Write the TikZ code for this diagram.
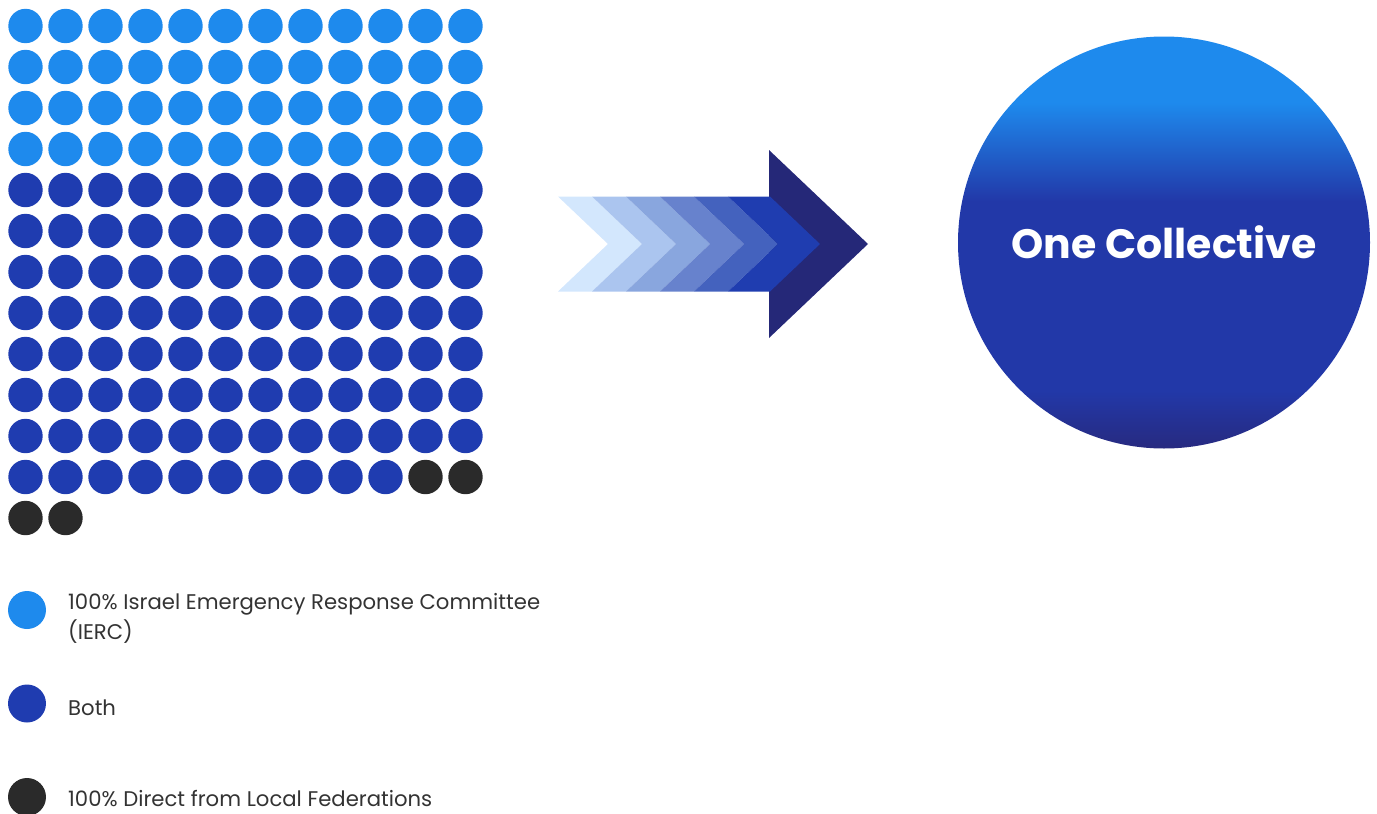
\documentclass[tikz,border=0pt]{standalone}
\usepackage{fontspec}
\setmainfont{Poppins}
\usepackage{tikz}

\definecolor{ierc}{HTML}{1E8AED}
\definecolor{both}{HTML}{1F3CB0}
\definecolor{direct}{HTML}{2A2A2A}
\definecolor{navy}{HTML}{252878}
\definecolor{collmid}{HTML}{2238A8}
\definecolor{collbot}{HTML}{272A80}
\definecolor{keygray}{HTML}{333333}
\definecolor{band1}{HTML}{D3E7FD}
\definecolor{band2}{HTML}{ABC5EF}
\definecolor{band3}{HTML}{89A6DE}
\definecolor{band4}{HTML}{6782CD}
\definecolor{band5}{HTML}{4462BE}
\definecolor{band6}{HTML}{1F3DB0}

\pgfdeclareverticalshading{collshade}{100bp}{color(0bp)=(collbot); color(25bp)=(collbot);
  color(32bp)=(collmid); color(55bp)=(collmid); color(67bp)=(ierc); color(100bp)=(ierc)}

\begin{document}
\begin{tikzpicture}[x=1pt, y=-1pt,
    griddot/.style={radius=17.2},
    keydot/.style={radius=19},
    keytext/.style={anchor=base west, inner sep=0, text=keygray, align=left,
      font=\fontsize{21.2}{30}\selectfont}]
	\useasboundingbox (0,0) rectangle (1377,814);
	
	% dots, IERC
	\foreach \r in {0,...,3}
	\foreach \c in {0,...,11}
	\fill [ierc, griddot] (25.5+40*\c, 26+41*\r) circle;
	
	% dots, both
	\foreach \r in {4,...,10}
	\foreach \c in {0,...,11}
	\fill [both, griddot] (25.5+40*\c, 26+41*\r) circle;
	\foreach \c in {0,...,9}
	\fill [both, griddot] (25.5+40*\c, 477) circle;
	
	% dots, direct
	\foreach \p in {(425.5,477), (465.5,477), (25.5,518), (65.5,518)}
	\fill [direct, griddot] \p circle;
	
	% arrow head
	\fill [navy] (769,150) -- (868,244) -- (769,338) -- cycle;
	% arrow chevrons
	\foreach \a/\b/\col in {558/592/band1, 592/626/band2, 626/660/band3,
		660/694/band4, 694/728/band5, 728/770/band6}
	\fill [\col] (\a,196.5) -- (\b,196.5) -- (\b+50,244) -- (\b,291.5)
	-- (\a,291.5) -- (\a+50,244) -- cycle;
	
	% one collective
	\node (coll) [circle, minimum size=412, inner sep=0, shade, shading=collshade,
	text=white, font=\bfseries\fontsize{41}{44}\selectfont] at (1164,242.5) {One Collective};
	
	% legend (base = second line)
	\fill [ierc, keydot] (27,610) circle;
	\node (kierc) [keytext] at (68,639.5) {100\% Israel Emergency Response Committee\\(IERC)};
	\fill [both, keydot] (27,703.5) circle;
	\node (kboth) [keytext] at (68,715) {Both};
	\fill [direct, keydot] (27,797) circle;
	\node (kdirect) [keytext] at (68,806.3) {100\% Direct from Local Federations};
	
\end{tikzpicture}
\end{document}
